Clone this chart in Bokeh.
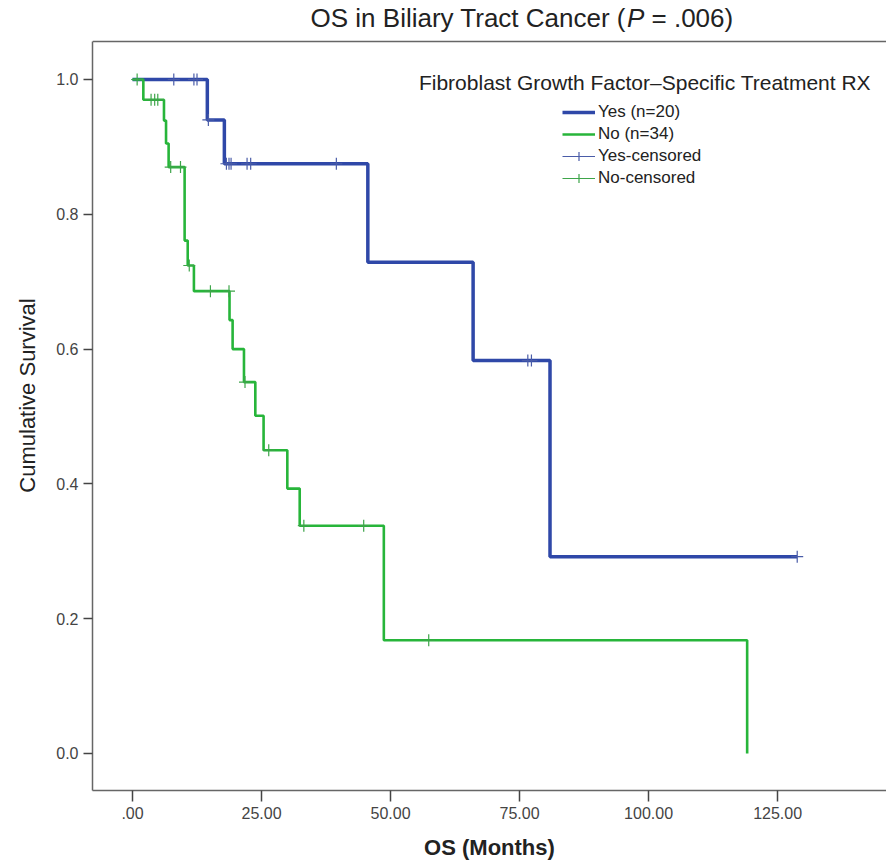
from bokeh.plotting import figure
from bokeh.models import Range1d, FixedTicker, Legend, LegendItem, Label, Span
from bokeh.embed import file_html
from bokeh.resources import INLINE

# ---- data ----
x_ticks = [0, 25, 50, 75, 100, 125]
x_tick_labels = [".00", "25.00", "50.00", "75.00", "100.00", "125.00"]
y_ticks = [0.0, 0.2, 0.4, 0.6, 0.8, 1.0]
y_tick_labels = ["0.0", "0.2", "0.4", "0.6", "0.8", "1.0"]

# Yes (n=20): Kaplan-Meier steps
yes_time = [0.0, 14.5, 17.8, 45.6, 66.0, 80.9, 128.8]
yes_surv = [1.0, 0.940, 0.875, 0.729, 0.583, 0.292, 0.292]
yes_cens_time = [8.0, 11.9, 12.5, 14.7, 18.2, 18.7, 19.1, 22.2, 22.9, 39.5, 76.6, 77.3, 128.8]
yes_cens_surv = [1.0, 1.0, 1.0, 0.940, 0.875, 0.875, 0.875, 0.875, 0.875, 0.875, 0.583, 0.583, 0.292]

# No (n=34): Kaplan-Meier steps
no_time = [0.0, 2.1, 6.1, 6.5, 7.0, 10.1, 10.7, 11.9, 18.8, 19.4, 21.6, 23.8, 25.4, 30.0, 32.4, 48.7, 119.1]
no_surv = [1.0, 0.970, 0.939, 0.905, 0.870, 0.761, 0.724, 0.686, 0.643, 0.600, 0.551, 0.501, 0.450, 0.393, 0.338, 0.168, 0.0]
no_cens_time = [0.9, 3.6, 4.3, 4.9, 7.4, 9.3, 11.0, 15.1, 18.7, 21.8, 26.4, 33.2, 44.8, 57.4]
no_cens_surv = [1.0, 0.970, 0.970, 0.970, 0.870, 0.870, 0.724, 0.686, 0.686, 0.551, 0.450, 0.338, 0.338, 0.168]

title_main = "OS in Biliary Tract Cancer ("
title_p = "P"
title_rest = "\u00a0= .006)"
legend_title = "Fibroblast Growth Factor\u2013Specific Treatment RX"
series_labels = ["Yes (n=20)", "No (n=34)", "Yes-censored", "No-censored"]

FONT = "Liberation Sans"
BLUE = "#2f48a8"
GREEN = "#27b53a"
BLUE_C = "#4a5ca8"
GREEN_C = "#3ea54a"

Y0, Y_TOP_FRAME, Y1 = -0.0549, 1.0564, 1.1172

p = figure(width=886, height=863, output_backend="svg", toolbar_location=None,
           x_range=Range1d(-7.75, 146.1), y_range=Range1d(Y0, Y1),
           min_border_left=92, min_border_top=0, min_border_bottom=73, min_border_right=0)
p.outline_line_color = None
p.xgrid.visible = False
p.ygrid.visible = False
p.background_fill_color = "white"

# top frame line
p.add_layout(Span(location=Y_TOP_FRAME, dimension="width", line_color="#666666", line_width=1.5))

# curves
r_yes = p.step(yes_time, yes_surv, mode="after", line_color=BLUE, line_width=3.5)
r_no = p.step(no_time, no_surv, mode="after", line_color=GREEN, line_width=2.6)
r_yc = p.scatter(yes_cens_time, yes_cens_surv, marker="cross", size=12,
                 line_color=BLUE_C, line_width=1.2)
r_nc = p.scatter(no_cens_time, no_cens_surv, marker="cross", size=12,
                 line_color=GREEN_C, line_width=1.2)
# legend-only thin lines for censored entries (nothing drawn in the plot)
d_yc = p.line([float("nan")], [float("nan")], line_color=BLUE_C, line_width=1.2)
d_nc = p.line([float("nan")], [float("nan")], line_color=GREEN_C, line_width=1.2)

xax = p.below[0]
yax = p.left[0]
for ax in (xax, yax):
    ax.axis_line_color = "#666666"
    ax.axis_line_width = 1.5
    ax.major_tick_line_color = "#444444"
    ax.major_tick_line_width = 1.5
    ax.major_tick_in = 0
    ax.minor_tick_line_color = None
    ax.major_label_text_font = FONT
    ax.major_label_text_font_size = "16px"
    ax.major_label_text_color = "#444444"
    ax.major_label_standoff = 5
    ax.axis_label_text_font = FONT
    ax.axis_label_text_font_size = "22px"
    ax.axis_label_text_color = "#222222"

xax.ticker = FixedTicker(ticks=x_ticks)
xax.major_label_overrides = {t: l for t, l in zip(x_ticks, x_tick_labels)}
xax.major_tick_out = 11
xax.axis_label = "OS (Months)"
xax.axis_label_text_font_style = "bold"
xax.axis_label_standoff = 13

yax.ticker = FixedTicker(ticks=y_ticks)
yax.major_label_overrides = {t: l for t, l in zip(y_ticks, y_tick_labels)}
yax.major_tick_out = 9
yax.bounds = (Y0, Y_TOP_FRAME)
yax.axis_label = "Cumulative Survival"
yax.axis_label_text_font_style = "normal"
yax.axis_label_standoff = 13

# title (with italic P)
TS = 26
tx, ty = 34.5, 1.0905
for txt, off, style in [(title_main, 0, "normal"),
                        (title_p, 12.169 * TS, "italic"),
                        (title_rest, (12.169 + 0.667) * TS, "normal")]:
    p.add_layout(Label(x=tx, y=ty, x_offset=off, text=txt, text_font=FONT,
                       text_font_size=f"{TS}px", text_font_style=style,
                       text_color="#222222", text_align="left", text_baseline="middle"))

# legend title
p.add_layout(Label(x=99.3, y=0.9955, text=legend_title, text_font=FONT,
                   text_font_size="21px", text_color="#222222",
                   text_align="center", text_baseline="middle"))

legend = Legend(items=[
    LegendItem(label=series_labels[0], renderers=[r_yes]),
    LegendItem(label=series_labels[1], renderers=[r_no]),
    LegendItem(label=series_labels[2], renderers=[d_yc, r_yc]),
    LegendItem(label=series_labels[3], renderers=[d_nc, r_nc]),
], location=(470, 601))
legend.glyph_width = 33
legend.glyph_height = 22
legend.label_height = 22
legend.spacing = 0
legend.padding = 0
legend.margin = 0
legend.label_standoff = 3
legend.label_text_font = FONT
legend.label_text_font_size = "17px"
legend.label_text_color = "#222222"
legend.border_line_color = None
legend.background_fill_alpha = 0
p.add_layout(legend, "center")

open("out.html", "w").write(file_html(p, INLINE))
